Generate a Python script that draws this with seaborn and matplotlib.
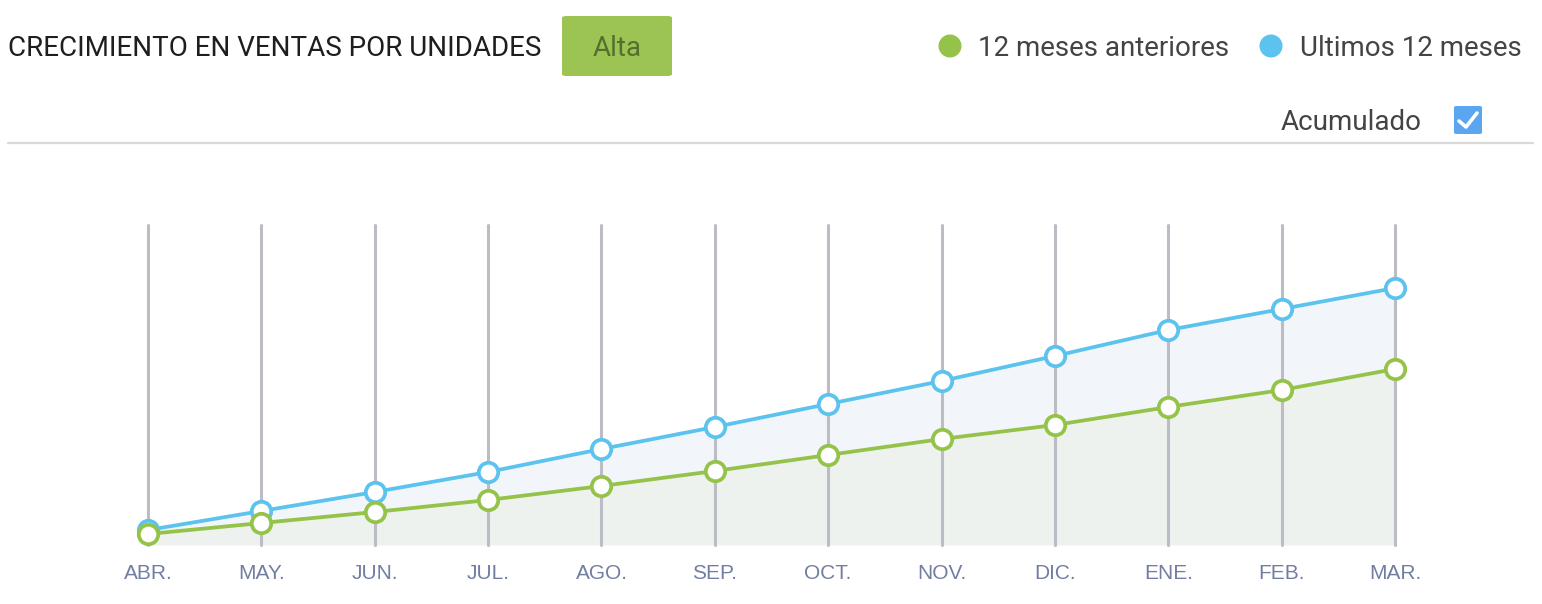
import matplotlib
matplotlib.use('Agg')
import matplotlib.pyplot as plt
import seaborn as sns
import pandas as pd
from matplotlib.patches import FancyBboxPatch, Ellipse

# datos (acumulado, unidades relativas)
meses = ['ABR.', 'MAY.', 'JUN.', 'JUL.', 'AGO.', 'SEP.', 'OCT.', 'NOV.', 'DIC.', 'ENE.', 'FEB.', 'MAR.']
ultimos_12 = [15, 34, 53, 73, 96, 118, 141, 164, 189, 215, 236, 257]
anteriores_12 = [11, 22, 33, 45, 59, 74, 90, 106, 120, 138, 155, 176]

verde = '#95c34a'
azul = '#5bc3ed'

df = pd.DataFrame({'mes': range(len(meses)), 'ultimos': ultimos_12, 'anteriores': anteriores_12})

sns.set_style('white')
plt.rcParams['font.family'] = ['Roboto', 'DejaVu Sans']

W, H = 1542, 604
fig = plt.figure(figsize=(W / 100, H / 100), dpi=100)

# ejes del grafico
x0, x1, ytop, ybot = 148, 1395, 225, 545
ax = fig.add_axes([x0 / W, 1 - ybot / H, (x1 - x0) / W, (ybot - ytop) / H])
ax.set_xlim(0, len(meses) - 1)
ax.set_ylim(0, ybot - ytop)

# areas
ax.fill_between(df['mes'], 0, df['anteriores'], color='#edf2ef', zorder=1, linewidth=0)
ax.fill_between(df['mes'], df['anteriores'], df['ultimos'], color='#f2f6fa', zorder=1, linewidth=0)

# lineas verticales
for i in df['mes']:
    ax.axvline(i, color='#bcbcc4', linewidth=2.2, zorder=2)

sns.lineplot(data=df, x='mes', y='ultimos', ax=ax, color=azul, linewidth=2.7,
             marker='o', markersize=14, markerfacecolor='white', markeredgecolor=azul,
             markeredgewidth=2.7, zorder=4)
sns.lineplot(data=df, x='mes', y='anteriores', ax=ax, color=verde, linewidth=2.7,
             marker='o', markersize=14, markerfacecolor='white', markeredgecolor=verde,
             markeredgewidth=2.7, zorder=5)
for ln in ax.lines:
    ln.set_clip_on(False)

ax.set_xticks(df['mes'])
ax.set_xticklabels(meses, family=['Liberation Sans'], fontsize=15, color='#727da2')
ax.tick_params(axis='x', length=0, pad=14)
ax.set_yticks([])
ax.set_xlabel('')
ax.set_ylabel('')
for s in ax.spines.values():
    s.set_visible(False)

# cabecera
def px(x, y):
    return x / W, 1 - y / H

fs = 20
fig.text(*px(8, 48), 'CRECIMIENTO EN VENTAS POR UNIDADES', fontsize=fs, color='#1e1e1e',
         va='center', ha='left')
fig.patches.append(FancyBboxPatch(px(562, 76), 110 / W, 60 / H,
                                  boxstyle='round,pad=0,rounding_size=0.003',
                                  transform=fig.transFigure, facecolor='#9bc453',
                                  edgecolor='none', figure=fig))
fig.text(*px(617, 49), 'Alta', fontsize=fs, color='#55702e', va='center', ha='center')

# leyenda
fig.patches.append(Ellipse(px(950, 46), 23 / W, 23 / H, transform=fig.transFigure,
                           facecolor=verde, edgecolor='none', figure=fig))
fig.text(*px(978, 49), '12 meses anteriores', fontsize=fs, color='#444444', va='center', ha='left')
fig.patches.append(Ellipse(px(1271, 46), 23 / W, 23 / H, transform=fig.transFigure,
                           facecolor=azul, edgecolor='none', figure=fig))
fig.text(*px(1300, 49), 'Ultimos 12 meses', fontsize=fs, color='#444444', va='center', ha='left')

# acumulado + checkbox
fig.text(*px(1281, 123), 'Acumulado', fontsize=fs, color='#444444', va='center', ha='left')
fig.patches.append(FancyBboxPatch(px(1454, 134), 28 / W, 28 / H,
                                  boxstyle='round,pad=0,rounding_size=0.002',
                                  transform=fig.transFigure, facecolor='#5aa6f0',
                                  edgecolor='none', figure=fig))
fig.lines.append(plt.Line2D([1459 / W, 1466 / W, 1477 / W],
                            [1 - 121 / H, 1 - 127 / H, 1 - 113 / H],
                            transform=fig.transFigure, color='white', linewidth=2.6,
                            solid_capstyle='round', solid_joinstyle='round', figure=fig))

# separador
fig.lines.append(plt.Line2D([8 / W, 1533 / W], [1 - 143 / H, 1 - 143 / H],
                            transform=fig.transFigure, color='#d9d9d9', linewidth=1.6, figure=fig))

fig.savefig('out.png', dpi=100, facecolor='white')
